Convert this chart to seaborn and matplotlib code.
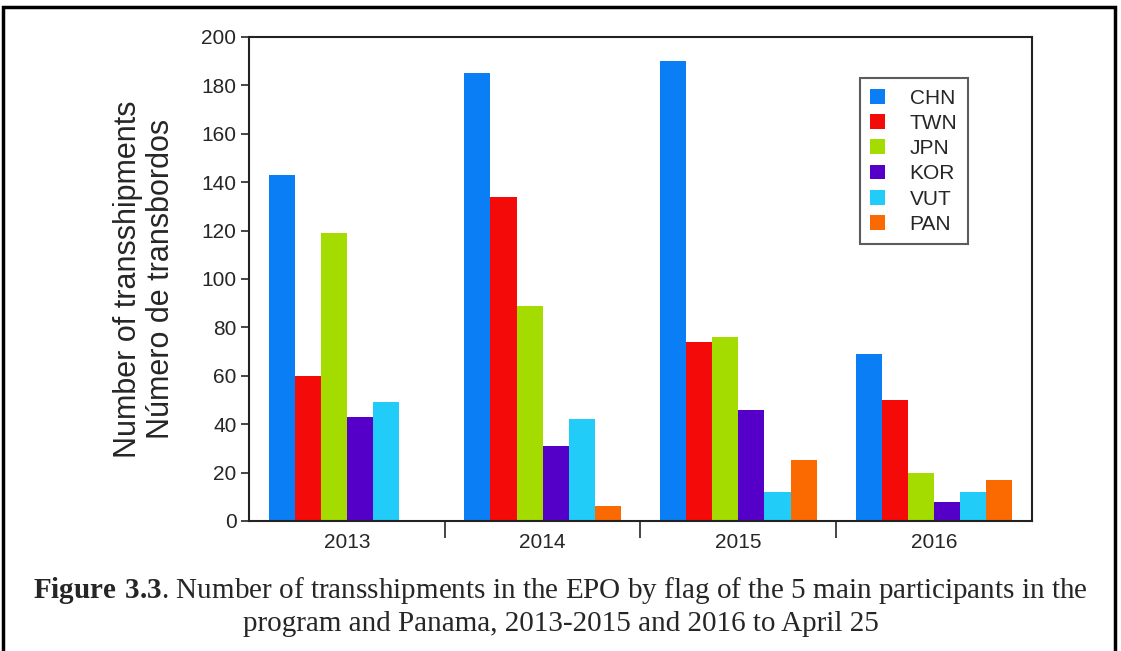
import numpy as np
import pandas as pd
import seaborn as sns
import matplotlib.pyplot as plt
from matplotlib.patches import Rectangle

years = ['2013', '2014', '2015', '2016']
flags = ['CHN', 'TWN', 'JPN', 'KOR', 'VUT', 'PAN']
chn = [143, 185, 190, 69]
twn = [60, 134, 74, 50]
jpn = [119, 89, 76, 20]
kor = [43, 31, 46, 8]
vut = [49, 42, 12, 12]
pan = [0, 6, 25, 17]
colors = ['#0a7ff5', '#f50a0a', '#a4dc00', '#5500c8', '#22ccf8', '#fb6a00']

series = [chn, twn, jpn, kor, vut, pan]
rows = []
for flag, vals in zip(flags, series):
    for yr, v in zip(years, vals):
        rows.append({'year': yr, 'flag': flag, 'n': v})
df = pd.DataFrame(rows)

sns.set_style('ticks')
plt.rcParams['font.family'] = ['Liberation Sans', 'DejaVu Sans']
plt.rcParams['mathtext.fontset'] = 'custom'
plt.rcParams['mathtext.rm'] = 'Liberation Serif'
plt.rcParams['mathtext.bf'] = 'Liberation Serif:bold'

fig = plt.figure(figsize=(11.21, 6.51), dpi=100)
ax = fig.add_axes([0.2221, 0.1997, 0.6985, 0.7435])

sns.barplot(data=df, x='year', y='n', hue='flag', hue_order=flags, order=years,
            palette=colors, width=0.8, saturation=1, ax=ax, errorbar=None,
            linewidth=0)

ax.set_ylim(0, 200)
ax.set_xlim(-0.5, 3.5)
ax.set_yticks(np.arange(0, 201, 20))
ax.tick_params(axis='y', labelsize=15, length=6, width=1.2, direction='out', pad=3)
ax.tick_params(axis='x', which='major', length=0, labelsize=15, pad=9)
ax.set_xticks([0.5, 1.5, 2.5], minor=True)
ax.tick_params(axis='x', which='minor', length=12, width=1.2, direction='out')
for s in ax.spines.values():
    s.set_linewidth(1.5)
    s.set_color('#222222')
ax.set_xlabel('')
ax.set_ylabel('Number of transshipments\nNúmero de transbordos', fontsize=22,
              labelpad=18, linespacing=1.15)

handles, labels = ax.get_legend_handles_labels()
ax.legend(handles, labels, loc='upper right', bbox_to_anchor=(0.918, 0.915),
          fontsize=15, frameon=True, fancybox=False, edgecolor='#333333',
          handlelength=0.7, handleheight=0.7, handletextpad=1.2,
          labelspacing=0.3, borderpad=0.5, borderaxespad=0)
ax.get_legend().get_frame().set_linewidth(1.5)

fig.text(0.5, 0.093, r'$\bf{Figure\ 3.3}$. Number of transshipments in the EPO by flag of the 5 main participants in the',
         ha='center', va='center', fontsize=21, family='Liberation Serif')
fig.text(0.5, 0.041, 'program and Panama, 2013-2015 and 2016 to April 25',
         ha='center', va='center', fontsize=21, family='Liberation Serif')

fig.patches.append(Rectangle((0.003, -0.1), 0.992, 1.089, transform=fig.transFigure,
                             fill=False, edgecolor='black', linewidth=2.5))

fig.savefig('out.png', dpi=100)
